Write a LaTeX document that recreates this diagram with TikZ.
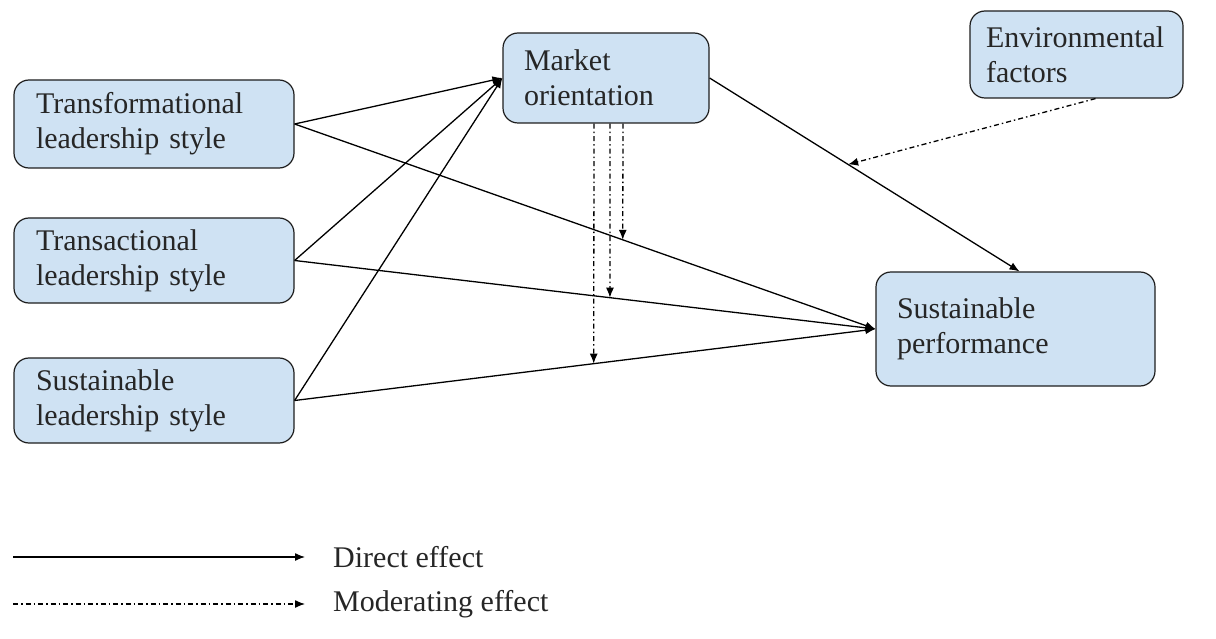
\documentclass[tikz,border=0pt]{standalone}
\usepackage{fontspec}
\setmainfont{Liberation Serif}
\usetikzlibrary{arrows.meta,calc}
\definecolor{boxblue}{RGB}{207,226,243}
\definecolor{edge}{RGB}{30,30,30}
\tikzset{
  box/.style={draw=edge, line width=1.2pt, fill=boxblue, rounded corners=15pt,
    align=left, font=\fontsize{30}{35}\selectfont, text=black!85},
  direct/.style={draw=black, line width=1.3pt, -{Latex[length=10pt,width=8pt]}},
  moder/.style={draw=black, line width=1.3pt, dash pattern=on 5pt off 3pt on 1.5pt off 3pt, -{Latex[length=10pt,width=8pt]}},
  legtext/.style={anchor=west, inner sep=0pt, font=\fontsize{30}{35}\selectfont, text=black!85}
}
\begin{document}
\begin{tikzpicture}[x=1pt,y=-1pt]
\useasboundingbox (0,0) rectangle (1216,639);
% boxes
\node[box, minimum width=280pt, minimum height=88pt, text width=236pt, inner xsep=22pt] (tf) at (154,124) {Transformational\\leadership style};
\node[box, minimum width=280pt, minimum height=85pt, text width=236pt, inner xsep=22pt] (ta) at (154,260.5) {Transactional\\leadership style};
\node[box, minimum width=280pt, minimum height=85pt, text width=236pt, inner xsep=22pt] (sl) at (154,400.5) {Sustainable\\leadership style};
\node[box, minimum width=206pt, minimum height=90pt, text width=164pt, inner xsep=21pt] (mo) at (606,78) {Market\\orientation};
\node[box, minimum width=213pt, minimum height=87pt, text width=181pt, inner xsep=16pt] (ef) at (1076.5,54.5) {Environmental\\factors};
\node[box, minimum width=279pt, minimum height=114pt, text width=237pt, inner xsep=21pt] (sp) at (1015.5,329) {Sustainable\\performance};
% direct effects
\draw[direct] (tf.east) -- (mo.west);
\draw[direct] (ta.east) -- (mo.west);
\draw[direct] (sl.east) -- (mo.west);
\draw[direct] (tf.east) -- (sp.west);
\draw[direct] (ta.east) -- (sp.west);
\draw[direct] (sl.east) -- (sp.west);
\draw[direct] (mo.east) -- ([xshift=4pt]sp.north);
% moderating targets
\coordinate (m1) at ($(tf.east)!0.565!(sp.west)$);
\coordinate (m2) at ($(ta.east)!0.543!(sp.west)$);
\coordinate (m3) at ($(sl.east)!0.515!(sp.west)$);
\coordinate (m4) at ($(mo.east)!0.447!([xshift=4pt]sp.north)$);
\draw[moder] ([xshift=17pt]mo.south) -- (m1);
\draw[moder] ([xshift=4pt]mo.south) -- (m2);
\draw[moder] ([xshift=-12pt]mo.south) -- (m3);
\draw[moder] ([xshift=19pt]ef.south) -- (m4);
% legend
\coordinate (l1a) at (13,557);
\coordinate (l1b) at (305,557);
\coordinate (l2a) at (13,604);
\coordinate (l2b) at (305,604);
\draw[direct] (l1a) -- (l1b);
\draw[moder] (l2a) -- (l2b);
\node[legtext] (lt1) at (333,557) {Direct effect};
\node[legtext] (lt2) at (333,604) {Moderating effect};
\end{tikzpicture}
\end{document}
